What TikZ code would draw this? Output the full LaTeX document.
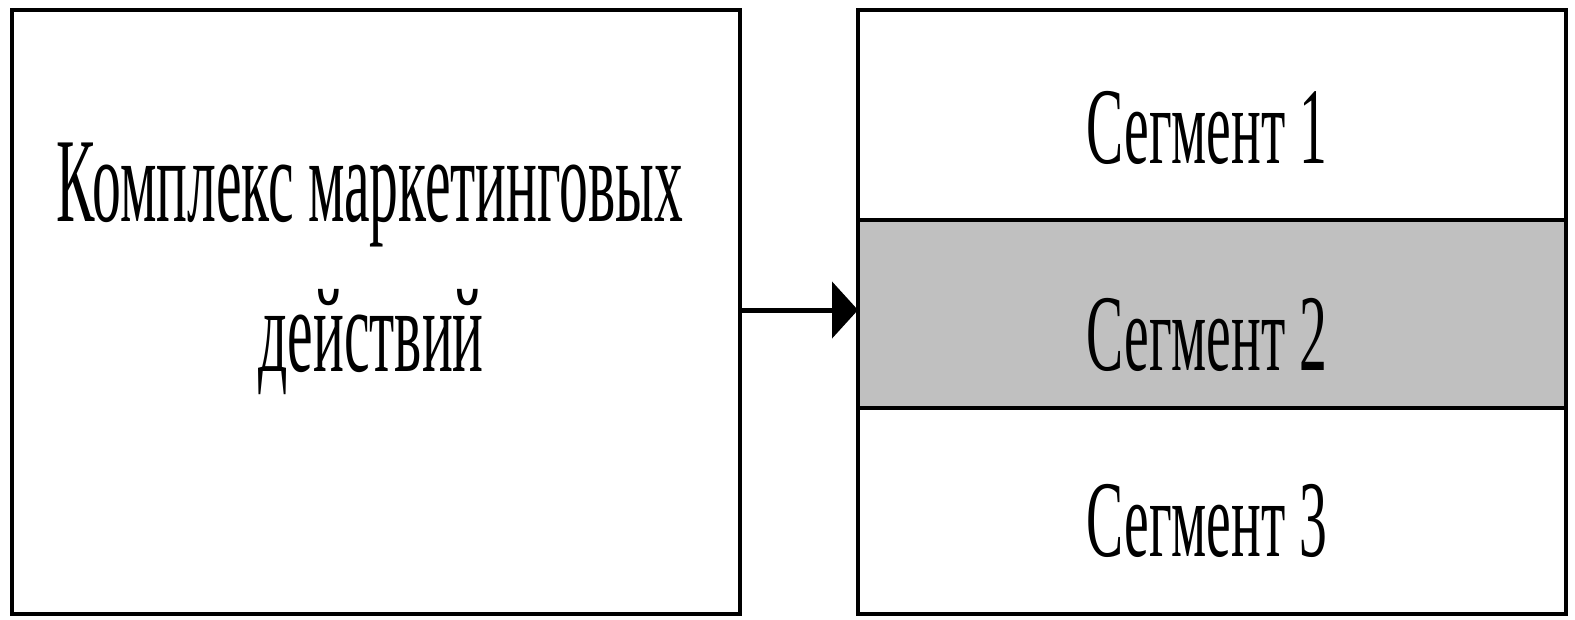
\documentclass[tikz,border=0pt]{standalone}
\usepackage{fontspec}
\usetikzlibrary{arrows.meta}
\newfontfamily\tnrL[FakeStretch=0.48]{Liberation Serif}
\newfontfamily\tnrS[FakeStretch=0.51]{Liberation Serif}
\definecolor{segfill}{HTML}{C0C0C0}
\tikzset{
  box/.style={draw=black, line width=3.5pt, rectangle, inner sep=0pt, outer sep=0pt},
  txtL/.style={font=\tnrL\fontsize{120}{144}\selectfont, text=black, inner sep=0pt},
  txtS/.style={font=\tnrS\fontsize{109}{130}\selectfont, text=black, inner sep=0pt},
  conn/.style={line width=5pt, -{Triangle[length=26pt,width=56pt]}}
}
\begin{document}
\begin{tikzpicture}[x=1pt,y=-1pt]
\useasboundingbox (0,0) rectangle (1575,619);
% left box
\node[box, minimum width=728pt, minimum height=604pt] (L) at (376,312) {};
\node[txtL, anchor=base] (Lt1) at (370,221) {Комплекс маркетинговых};
\node[txtL, anchor=base] (Lt2) at (371,371) {действий};
% right stack
\node[box, minimum width=708pt, minimum height=210pt] (S1) at (1212,115) {};
\node[box, fill=segfill, minimum width=708pt, minimum height=188pt] (S2) at (1212,314) {};
\node[box, minimum width=708pt, minimum height=206pt] (S3) at (1212,511) {};
\node[txtS, anchor=base] (S1t) at (1207,163) {Сегмент 1};
\node[txtS, anchor=base] (S2t) at (1207,370) {Сегмент 2};
\node[txtS, anchor=base] (S3t) at (1207,556) {Сегмент 3};
% arrow
\draw[conn] (L.east |- 0,310) -- (S2.west |- 0,310);
\end{tikzpicture}
\end{document}
